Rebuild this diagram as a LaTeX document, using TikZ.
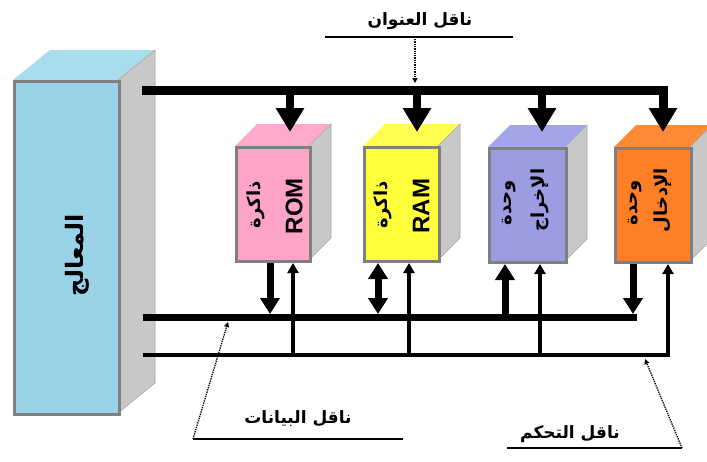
\documentclass[tikz,border=0pt]{standalone}
\usepackage{fontspec}
\setmainfont{Liberation Sans}
\newfontfamily\arabicfont[Script=Arabic]{DejaVu Sans}
\TeXXeTstate=1
\usetikzlibrary{arrows.meta}
\definecolor{procfront}{HTML}{9AD3E8}
\definecolor{proctop}{HTML}{A9DDEE}
\definecolor{sidegray}{HTML}{C8C8C8}
\definecolor{edgegray}{HTML}{7F7F7F}
\definecolor{romfront}{HTML}{FFA3C8}
\definecolor{romtop}{HTML}{FFAACC}
\definecolor{ramfront}{HTML}{FFFF3C}
\definecolor{ramtop}{HTML}{FFFF50}
\definecolor{outfront}{HTML}{9C9CE3}
\definecolor{outtop}{HTML}{A4A4EA}
\definecolor{infront}{HTML}{FF7F27}
\definecolor{intop}{HTML}{FF8A36}
\tikzset{
  frontface/.style={draw=edgegray, line width=3pt, inner sep=0pt},
  sideface/.style={fill=sidegray, draw=gray!70, line width=0.6pt},
  adrbus/.style={line width=9pt, -{Triangle[width=27pt,length=24pt]}},
  adrarrow/.style={line width=8pt, -{Triangle[width=27pt,length=24pt]}},
  dbus/.style={line width=7pt},
  darrow/.style={line width=7pt, -{Triangle[width=19pt,length=16pt]}},
  ddarrow/.style={line width=7pt, {Triangle[width=19pt,length=16pt]}-{Triangle[width=19pt,length=16pt]}},
  cbus/.style={line width=4pt},
  cbusarrow/.style={line width=4pt, -{Triangle[width=11pt,length=10pt]}},
  carrow/.style={line width=3.5pt, -{Triangle[width=11pt,length=10pt]}},
  pointer/.style={densely dotted, line width=1.3pt, -{Triangle[width=5pt,length=5pt]}},
  uline/.style={line width=1.2pt},
  alabel/.style={font=\arabicfont\bfseries\fontsize{17}{19}\selectfont},
  boxar/.style={rotate=90, inner sep=0pt, font=\arabicfont\bfseries\fontsize{18}{20}\selectfont},
  cpuar/.style={rotate=90, inner sep=0pt, font=\arabicfont\bfseries\fontsize{24}{26}\selectfont},
  boxen/.style={rotate=90, inner sep=0pt, font=\bfseries\fontsize{24}{26}\selectfont},
}
\newcommand\cubebox[7]{%
  \fill[#7] (#2,#3) -- ++(22,-22) -- ++(#4,0) -- ++(-22,22) -- cycle;
  \filldraw[sideface] (#2+#4,#3) -- ++(22,-22) -- ++(0,#5) -- ++(-22,22) -- cycle;
  \node[frontface, fill=#6, minimum width=#4pt, minimum height=#5pt, anchor=north west] (#1) at (#2,#3) {};
}
\begin{document}
\begin{tikzpicture}[x=1pt,y=-1pt]
\useasboundingbox (0,0) rectangle (707,461);
% processor
\fill[proctop] (13,80) -- (50,50) -- (155,50) -- (118,80) -- cycle;
\filldraw[sideface] (118,80) -- (155,50) -- (155,383) -- (118,413) -- cycle;
\node[frontface, fill=procfront, minimum width=105pt, minimum height=333pt, anchor=north west] (cpu) at (13,80) {};
\node[cpuar] (cpulbl) at (77,255) {\beginR المعالج\endR};
% boxes
\cubebox{rom}{235}{146}{74}{114}{romfront}{romtop}
\cubebox{ram}{363}{146}{75}{114}{ramfront}{ramtop}
\cubebox{outu}{488}{147}{77}{114}{outfront}{outtop}
\cubebox{inu}{614}{147}{76}{114}{infront}{intop}
% box labels
\node[boxar] (romar) at (256,205) {\beginR ذاكرة\endR};
\node[boxen] (romen) at (294,206) {ROM};
\node[boxar] (ramar) at (383,205) {\beginR ذاكرة\endR};
\node[boxen] (ramen) at (421,206) {RAM};
\node[boxar] (outar1) at (509,203) {\beginR وحدة\endR};
\node[boxar] (outar2) at (540,200) {\beginR الإخراج\endR};
\node[boxar] (inar1) at (635,203) {\beginR وحدة\endR};
\node[boxar] (inar2) at (663,200) {\beginR الإدخال\endR};
% address bus
\coordinate (a0) at (142,90);
\coordinate (a1) at (290,90);
\coordinate (a2) at (417,90);
\coordinate (a3) at (542,90);
\coordinate (a4) at (663,90);
\coordinate (t1) at (290,132);
\coordinate (t2) at (417,132);
\coordinate (t3) at (542,132);
\coordinate (t4) at (663,132);
\draw[adrbus] (a0) -- (a4) -- (t4);
\draw[adrarrow] (a1) -- (t1);
\draw[adrarrow] (a2) -- (t2);
\draw[adrarrow] (a3) -- (t3);
% data bus
\coordinate (d0) at (143,317);
\coordinate (d5) at (637,317);
\draw[dbus] (d0) -- (d5);
\coordinate (d1) at (270,314);
\coordinate (d2) at (378,314);
\coordinate (d3) at (505,320);
\coordinate (d4) at (633,314);
\draw[darrow] (rom.south -| d1) -- (d1);
\draw[ddarrow] (ram.south -| d2) -- (d2);
\draw[darrow] (d3) -- (outu.south -| d3);
\draw[darrow] (inu.south -| d4) -- (d4);
% control bus
\coordinate (c0) at (143,355);
\coordinate (c1) at (293,355);
\coordinate (c2) at (409,355);
\coordinate (c3) at (540,355);
\coordinate (c4) at (668,355);
\draw[cbusarrow] (c0) -- (c4) -- (inu.south -| c4);
\draw[carrow] (c1) -- (rom.south -| c1);
\draw[carrow] (c2) -- (ram.south -| c2);
\draw[carrow] (c3) -- (outu.south -| c3);
% labels
\node[alabel] (alab) at (420,21) {\beginR ناقل العنوان\endR};
\coordinate (au0) at (325,37);
\coordinate (au1) at (513,37);
\draw[uline] (au0) -- (au1);
\coordinate (ap0) at (415,39);
\coordinate (ap1) at (415,83);
\draw[pointer] (ap0) -- (ap1);
\node[alabel] (dlab) at (298,419) {\beginR ناقل البيانات\endR};
\coordinate (du0) at (193,439);
\coordinate (du1) at (403,439);
\draw[uline] (du0) -- (du1);
\coordinate (dp1) at (228,322);
\draw[pointer] (du0) -- (dp1);
\node[alabel] (clab) at (570,434) {\beginR ناقل التحكم\endR};
\coordinate (cu0) at (507,448);
\coordinate (cu1) at (682,448);
\draw[uline] (cu0) -- (cu1);
\coordinate (cp1) at (645,359);
\draw[pointer] (cu1) -- (cp1);
\end{tikzpicture}
\end{document}
